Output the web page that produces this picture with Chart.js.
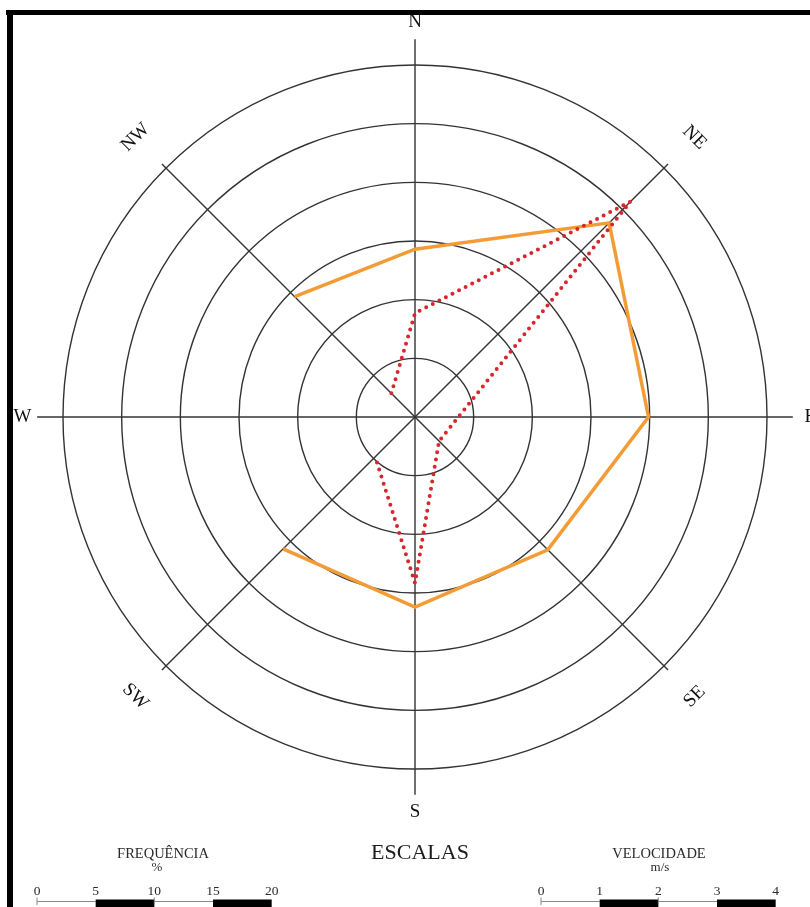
<!DOCTYPE html>
<html>
<head>
<meta charset="utf-8">
<script src="https://cdn.jsdelivr.net/npm/chart.js@4.4.1/dist/chart.umd.min.js"></script>
<style>
html,body{margin:0;padding:0;background:#fff;overflow:hidden;}
#wrap{position:relative;width:810px;height:907px;}
</style>
</head>
<body>
<div id="wrap"><canvas id="rose"></canvas></div>
<script>
// Wind directions, clockwise from north
const directions = ['N', 'NE', 'E', 'SE', 'S', 'SW', 'W', 'NW'];
// Frequency of occurrence per direction (%), no record for W
const frequency = [14.3, 23.4, 19.9, 16.0, 16.2, 15.9, null, 14.5];
// Mean wind speed per direction (m/s), no record for W
const velocity = [1.77, 5.19, 0.74, 0.58, 2.83, 0.96, null, 0.57];
// Graphic scale bars
const freqScaleTicks = [0, 5, 10, 15, 20];
const velScaleTicks = [0, 1, 2, 3, 4];

const PERCENT_PER_RING = 5;   // one ring = 5 % = 1 m/s
const RINGS = 6;
const SERIF = '"Liberation Serif", "DejaVu Serif", serif';

const frequencyRings = frequency.map(v => v == null ? null : v / PERCENT_PER_RING);

const roseDecor = {
  id: 'roseDecor',
  beforeDatasetsDraw(chart) {
    const s = chart.scales.r;
    const ctx = chart.ctx;
    const unit = s.getDistanceFromCenterForValue(1) - s.getDistanceFromCenterForValue(0);
    ctx.save();
    ctx.strokeStyle = '#333';
    ctx.lineWidth = 1.4;
    directions.forEach((d, i) => {
      const len = (i % 2 === 0) ? 6.44 : 6.1;
      const p = s.getPointPosition(i, len * unit);
      ctx.beginPath();
      ctx.moveTo(s.xCenter, s.yCenter);
      ctx.lineTo(p.x, p.y);
      ctx.stroke();
    });
    ctx.restore();
  },
  afterDraw(chart) {
    const s = chart.scales.r;
    const ctx = chart.ctx;
    const unit = s.getDistanceFromCenterForValue(1) - s.getDistanceFromCenterForValue(0);
    ctx.save();

    // direction labels
    ctx.fillStyle = '#111';
    ctx.font = '19px ' + SERIF;
    ctx.textAlign = 'center';
    ctx.textBaseline = 'middle';
    directions.forEach((d, i) => {
      const dist = (d === 'W') ? 6.69 : 6.74;
      const p = s.getPointPosition(i, dist * unit);
      ctx.save();
      ctx.translate(p.x, p.y);
      if (i % 2 === 1) {
        let deg = i * 45;
        if (deg > 90 && deg < 270) deg -= 180;
        if (deg >= 270) deg -= 360;
        ctx.rotate(deg * Math.PI / 180);
      }
      ctx.fillText(d, 0, 0);
      ctx.restore();
    });

    // frame
    ctx.fillStyle = '#000';
    ctx.fillRect(6, 10, 804, 5);
    ctx.fillRect(7, 10, 6, 897);

    // scale titles
    ctx.fillStyle = '#1c1c1c';
    ctx.font = '22px ' + SERIF;
    ctx.fillText('ESCALAS', 420, 853);

    ctx.fillStyle = '#2a2a2a';
    ctx.font = '14.5px ' + SERIF;
    ctx.fillText('FREQUÊNCIA', 163, 854);
    ctx.fillText('VELOCIDADE', 659, 854);
    ctx.font = '13px ' + SERIF;
    ctx.fillText('%', 157, 868);
    ctx.fillText('m/s', 660, 868);

    const drawBar = (x0, ticks, perRing) => {
      const xs = ticks.map(v => x0 + (v / perRing) * unit);
      ctx.font = '13.5px ' + SERIF;
      ctx.fillStyle = '#2a2a2a';
      xs.forEach((x, k) => ctx.fillText(String(ticks[k]), x, 891));
      for (let k = 0; k < xs.length - 1; k++) {
        if (k % 2 === 1) {
          ctx.fillStyle = '#000';
          ctx.fillRect(xs[k], 899.5, xs[k + 1] - xs[k], 9);
        } else {
          ctx.strokeStyle = '#888';
          ctx.lineWidth = 1;
          ctx.beginPath();
          ctx.moveTo(xs[k], 901.5);
          ctx.lineTo(xs[k + 1], 901.5);
          ctx.stroke();
          ctx.beginPath();
          ctx.moveTo(xs[k], 897.5);
          ctx.lineTo(xs[k], 905);
          ctx.stroke();
        }
      }
    };
    drawBar(37, freqScaleTicks, PERCENT_PER_RING);
    drawBar(541, velScaleTicks, 1);

    ctx.restore();
  }
};

new Chart(document.getElementById('rose'), {
  type: 'radar',
  data: {
    labels: directions,
    datasets: [
      {
        label: 'Velocidade (m/s)',
        data: velocity,
        borderColor: '#D8262C',
        borderWidth: 4,
        borderDash: [0, 7.4],
        borderCapStyle: 'round',
        fill: false,
        pointRadius: 0,
        pointHoverRadius: 0,
        spanGaps: false,
        tension: 0
      },
      {
        label: 'Frequência (%)',
        data: frequencyRings,
        borderColor: '#F39C35',
        borderWidth: 3.5,
        fill: false,
        pointRadius: 0,
        pointHoverRadius: 0,
        spanGaps: false,
        tension: 0
      }
    ]
  },
  options: {
    responsive: true,
    maintainAspectRatio: false,
    animation: false,
    events: [],
    layout: { padding: { left: 63, right: 43, top: 65, bottom: 138 } },
    plugins: { legend: { display: false }, tooltip: { enabled: false } },
    scales: {
      r: {
        min: 0,
        max: RINGS,
        ticks: { display: false, stepSize: 1 },
        grid: { circular: true, color: '#333', lineWidth: 1.4 },
        angleLines: { display: false },
        pointLabels: { display: false }
      }
    }
  },
  plugins: [roseDecor]
});
</script>
</body>
</html>
